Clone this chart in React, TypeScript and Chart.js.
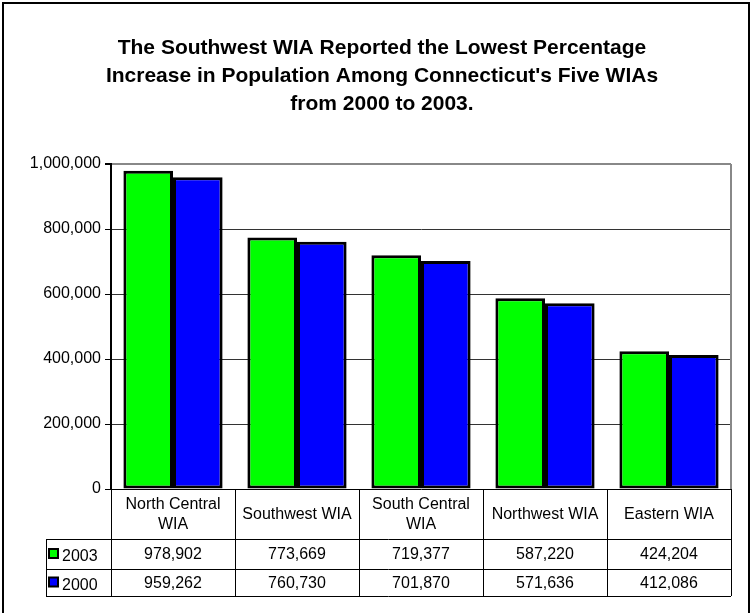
import React, { useEffect, useRef } from "react";
import { Chart, registerables } from "chart.js";

Chart.register(...registerables);

const titleLines = [
  "The Southwest WIA Reported the Lowest Percentage",
  "Increase in Population Among Connecticut's Five WIAs",
  "from 2000 to 2003.",
];
const categories: string[][] = [
  ["North Central", "WIA"],
  ["Southwest WIA"],
  ["South Central", "WIA"],
  ["Northwest WIA"],
  ["Eastern WIA"],
];
const seriesNames = ["2003", "2000"];
const values2003 = [978902, 773669, 719377, 587220, 424204];
const values2000 = [959262, 760730, 701870, 571636, 412086];
const seriesColors = ["#00FF00", "#0000FF"];
const yMax = 1000000;
const yStep = 200000;

const FONT = "'Liberation Sans', Arial, Helvetica, sans-serif";

const fmt = (v: number) => v.toLocaleString("en-US");

const decorPlugin = {
  id: "decor",
  beforeDraw(chart: any) {
    const ctx = chart.ctx;
    ctx.save();
    ctx.fillStyle = "#ffffff";
    ctx.fillRect(0, 0, chart.width, chart.height);
    ctx.restore();
  },
  afterDraw(chart: any) {
    const ctx = chart.ctx;
    const area = chart.chartArea;
    const xs = chart.scales.x;
    ctx.save();

    // outer border
    ctx.strokeStyle = "#000";
    ctx.lineWidth = 2;
    ctx.beginPath();
    ctx.moveTo(3, chart.height + 5);
    ctx.lineTo(3, 3);
    ctx.lineTo(749, 3);
    ctx.lineTo(749, chart.height + 5);
    ctx.stroke();

    // title
    ctx.fillStyle = "#000";
    ctx.font = `bold 21px ${FONT}`;
    ctx.textAlign = "center";
    ctx.textBaseline = "middle";
    titleLines.forEach((t, i) => ctx.fillText(t, 382, 48 + i * 28));

    // plot area right border
    ctx.strokeStyle = "#888";
    ctx.lineWidth = 2;
    ctx.beginPath();
    ctx.moveTo(area.right, area.top);
    ctx.lineTo(area.right, area.bottom);
    ctx.stroke();

    // data table
    const n = categories.length;
    const step = n > 1 ? xs.getPixelForValue(1) - xs.getPixelForValue(0) : area.right - area.left;
    const half = step / 2;
    const top = area.bottom;
    const headerBottom = top + 50;
    const rowBottoms = [headerBottom + 30, headerBottom + 57];
    const tableLeft = 46;
    const tableRight = xs.getPixelForValue(n - 1) + half;

    ctx.strokeStyle = "#000";
    ctx.lineWidth = 1;
    ctx.beginPath();
    for (let i = 0; i <= n; i++) {
      const bx = Math.round(xs.getPixelForValue(0) - half + i * step) + 0.5;
      ctx.moveTo(bx, top);
      ctx.lineTo(bx, rowBottoms[1]);
    }
    ctx.moveTo(tableLeft + 0.5, headerBottom);
    ctx.lineTo(tableLeft + 0.5, rowBottoms[1]);
    [headerBottom, ...rowBottoms].forEach((yy) => {
      ctx.moveTo(tableLeft, Math.round(yy) + 0.5);
      ctx.lineTo(tableRight, Math.round(yy) + 0.5);
    });
    ctx.stroke();

    ctx.font = `16px ${FONT}`;
    ctx.fillStyle = "#000";
    ctx.textAlign = "center";
    ctx.textBaseline = "middle";
    categories.forEach((lines, i) => {
      const cx = xs.getPixelForValue(i);
      const mid = (top + headerBottom) / 2 + 1;
      lines.forEach((l, j) => {
        const yy = mid + (j - (lines.length - 1) / 2) * 20;
        ctx.fillText(l, cx, yy);
      });
    });

    const allVals = [values2003, values2000];
    const rowTops = [headerBottom, rowBottoms[0]];
    allVals.forEach((vals, r) => {
      const mid = (rowTops[r] + rowBottoms[r]) / 2 + 1;
      vals.forEach((v, i) => {
        ctx.textAlign = "center";
        ctx.fillText(fmt(v), xs.getPixelForValue(i), mid);
      });
      // legend key
      ctx.fillStyle = seriesColors[r];
      ctx.fillRect(49, mid - 6, 9, 9);
      ctx.strokeStyle = "#000";
      ctx.lineWidth = 2;
      ctx.strokeRect(49, mid - 6, 9, 9);
      ctx.fillStyle = "#000";
      ctx.textAlign = "left";
      ctx.fillText(seriesNames[r], 62, mid + 2);
    });

    ctx.restore();
  },
};

export default function App() {
  const ref = useRef<HTMLCanvasElement | null>(null);
  useEffect(() => {
    if (!ref.current) return;
    const chart = new Chart(ref.current, {
      type: "bar",
      data: {
        labels: categories.map((c) => c.join(" ")),
        datasets: [
          {
            label: seriesNames[0],
            data: values2003,
            backgroundColor: seriesColors[0],
            borderColor: "#000",
            borderWidth: 3,
            borderSkipped: false,
            categoryPercentage: 0.8,
            barPercentage: 1,
          },
          {
            label: seriesNames[1],
            data: values2000,
            backgroundColor: seriesColors[1],
            borderColor: "#000",
            borderWidth: 3,
            borderSkipped: false,
            categoryPercentage: 0.8,
            barPercentage: 1,
          },
        ],
      },
      options: {
        responsive: false,
        animation: false,
        devicePixelRatio: 1,
        layout: { padding: { top: 164, bottom: 124, left: 0, right: 21 } },
        plugins: {
          legend: { display: false },
          title: { display: false },
          tooltip: { enabled: false },
        },
        scales: {
          x: { display: false },
          y: {
            min: 0,
            max: yMax,
            afterFit: (scale: any) => {
              scale.width = 111;
            },
            ticks: {
              stepSize: yStep,
              color: "#000",
              padding: 4,
              font: { family: FONT, size: 16 },
              callback: (v: any) => fmt(Number(v)),
            },
            grid: {
              color: (c: any) =>
                c.tick && c.tick.value === yMax ? "#888" : c.tick && c.tick.value === 0 ? "#000" : "#333",
              lineWidth: (c: any) => (c.tick && c.tick.value === yMax ? 2 : 1),
              tickColor: "#000",
              tickLength: 6,
            },
            border: { color: "#000", width: 2 },
          },
        },
      },
      plugins: [decorPlugin],
    });
    return () => chart.destroy();
  }, []);
  return (
    <div style={{ position: "fixed", left: 0, top: 0, width: 752, height: 613, background: "#fff" }}>
      <canvas ref={ref} width={752} height={613} style={{ display: "block" }} />
    </div>
  );
}
